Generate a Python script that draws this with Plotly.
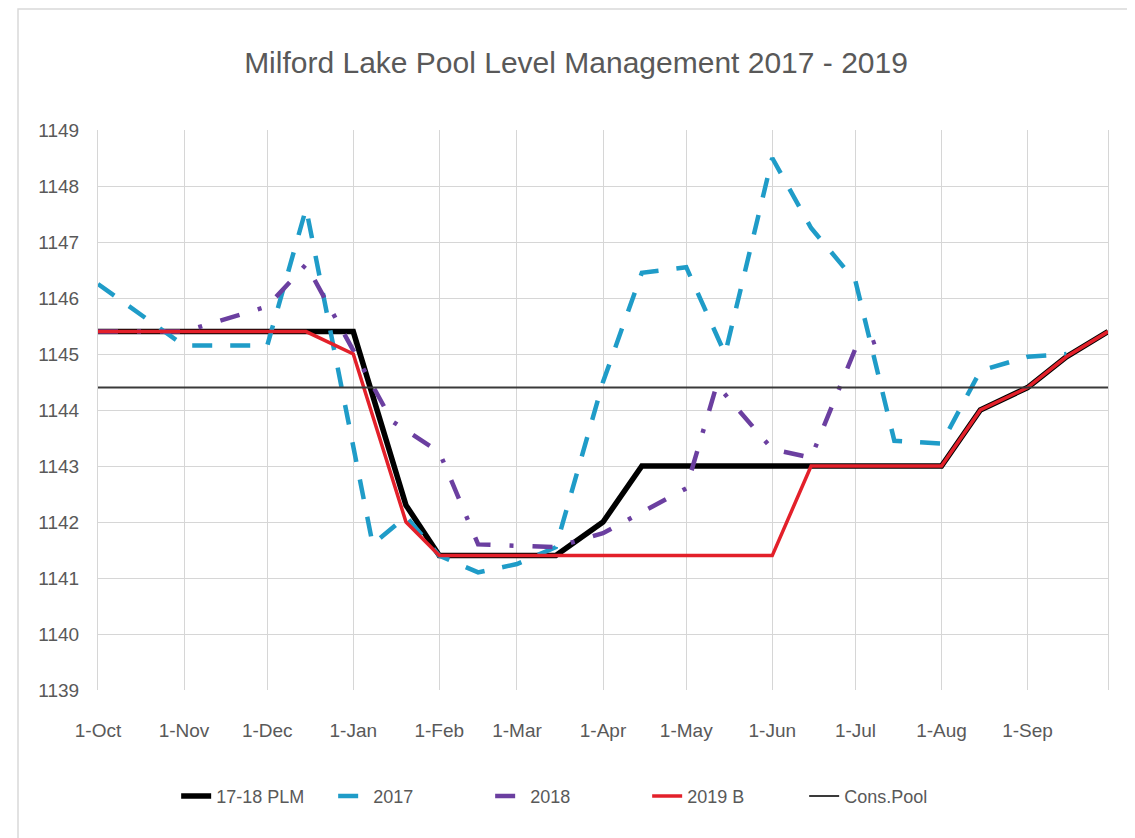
import plotly.graph_objects as go

# ---- data ----
plm_dates = ["2016-10-01", "2017-01-01", "2017-01-20", "2017-02-01", "2017-03-15",
             "2017-04-01", "2017-04-15", "2017-08-01", "2017-08-15", "2017-09-01",
             "2017-09-15", "2017-09-30"]
plm_vals = [1145.4, 1145.4, 1142.3, 1141.4, 1141.4, 1142.0, 1143.0, 1143.0, 1144.0,
            1144.4, 1144.95, 1145.4]

y2017_dates = ["2016-10-01", "2016-11-01", "2016-12-01", "2016-12-15", "2017-01-08",
               "2017-01-20", "2017-02-01", "2017-02-15", "2017-03-01", "2017-03-15",
               "2017-04-01", "2017-04-15", "2017-05-01", "2017-05-15", "2017-06-01",
               "2017-06-15", "2017-07-01", "2017-07-15", "2017-08-01", "2017-08-15",
               "2017-09-01", "2017-09-15"]
y2017_vals = [1146.25, 1145.15, 1145.15, 1147.6, 1141.6, 1142.1, 1141.4, 1141.1,
              1141.25, 1141.55, 1144.5, 1146.45, 1146.55, 1145.0, 1148.5, 1147.25,
              1146.3, 1143.45, 1143.4, 1144.7, 1144.95, 1145.0]

y2018_dates = ["2016-10-01", "2016-11-01", "2016-12-01", "2016-12-15", "2017-01-15",
               "2017-02-01", "2017-02-15", "2017-03-15", "2017-04-01", "2017-05-01",
               "2017-05-12", "2017-06-01", "2017-06-15", "2017-07-01", "2017-07-10"]
y2018_vals = [1145.4, 1145.4, 1145.85, 1146.6, 1143.8, 1143.25, 1141.6, 1141.55,
              1141.8, 1142.6, 1144.45, 1143.3, 1143.15, 1145.1, 1145.25]

b2019_dates = ["2016-10-01", "2016-12-15", "2017-01-01", "2017-01-20", "2017-02-01",
               "2017-06-01", "2017-06-15", "2017-08-01", "2017-08-15", "2017-09-01",
               "2017-09-15", "2017-09-30"]
b2019_vals = [1145.4, 1145.4, 1145.0, 1142.0, 1141.4, 1141.4, 1143.0, 1143.0, 1144.0,
              1144.4, 1144.95, 1145.4]

cons_dates = ["2016-10-01", "2017-09-30"]
cons_vals = [1144.4, 1144.4]

series_names = ["17-18 PLM", "2017", "2018", "2019 B", "Cons.Pool"]
chart_title = "Milford Lake Pool Level Management 2017 - 2019"

FONT = "Liberation Sans, Arial, sans-serif"
GRAY = "#595959"

# page body has an 8px margin, so the figure is sized/offset to compensate
W, H = 1127, 830

fig = go.Figure()
fig.add_trace(go.Scatter(x=plm_dates, y=plm_vals, name=series_names[0], mode="lines",
                         line=dict(color="#000000", width=5.5)))
fig.add_trace(go.Scatter(x=y2017_dates, y=y2017_vals, name=series_names[1], mode="lines",
                         line=dict(color="#1F9CC8", width=4.5, dash="20px,18px")))
fig.add_trace(go.Scatter(x=y2018_dates, y=y2018_vals, name=series_names[2], mode="lines",
                         line=dict(color="#6B3FA0", width=4.5, dash="20px,19px,4px,19px")))
fig.add_trace(go.Scatter(x=b2019_dates, y=b2019_vals, name=series_names[3], mode="lines",
                         line=dict(color="#E3202A", width=3.5)))
fig.add_trace(go.Scatter(x=cons_dates, y=cons_vals, name=series_names[4], mode="lines",
                         line=dict(color="#3A3A3A", width=2)))

fig.update_layout(
    width=W, height=H,
    margin=dict(l=90, r=27, t=122, b=148),
    paper_bgcolor="white", plot_bgcolor="white",
    font=dict(family=FONT, color=GRAY, size=19),
    title=dict(text=chart_title, x=0.504, xref="container", xanchor="center",
               y=1 - 54 / H, yref="container", yanchor="middle",
               font=dict(family=FONT, size=30, color=GRAY)),
    showlegend=True,
    legend=dict(orientation="h", x=0.466, xanchor="center", y=-0.19, yanchor="middle",
                font=dict(family=FONT, size=18, color=GRAY),
                entrywidth=112, entrywidthmode="pixels",
                bgcolor="rgba(0,0,0,0)"),
    shapes=[dict(type="rect", xref="paper", yref="paper",
                 x0=-0.0792, x1=1.0248, y0=-0.27, y1=1.216,
                 line=dict(color="#D9D9D9", width=1.5), fillcolor="rgba(0,0,0,0)",
                 layer="below")],
)
fig.update_xaxes(type="date", range=["2016-10-01", "2017-09-30"],
                 tick0="2016-10-01", dtick="M1", tickformat="%-d-%b",
                 showgrid=True, gridcolor="#D6D6D6", gridwidth=1.2,
                 showline=False, zeroline=False, ticks="",
                 ticklabelstandoff=27,
                 tickfont=dict(family=FONT, size=19, color=GRAY))
fig.update_yaxes(range=[1139, 1149], dtick=1, tick0=1139,
                 showgrid=True, gridcolor="#D6D6D6", gridwidth=1.2,
                 showline=True, mirror=True, linecolor="#D6D6D6", linewidth=1.2,
                 zeroline=False, ticks="", ticklabelstandoff=14,
                 tickfont=dict(family=FONT, size=19, color=GRAY))

fig.write_html("out.html")
